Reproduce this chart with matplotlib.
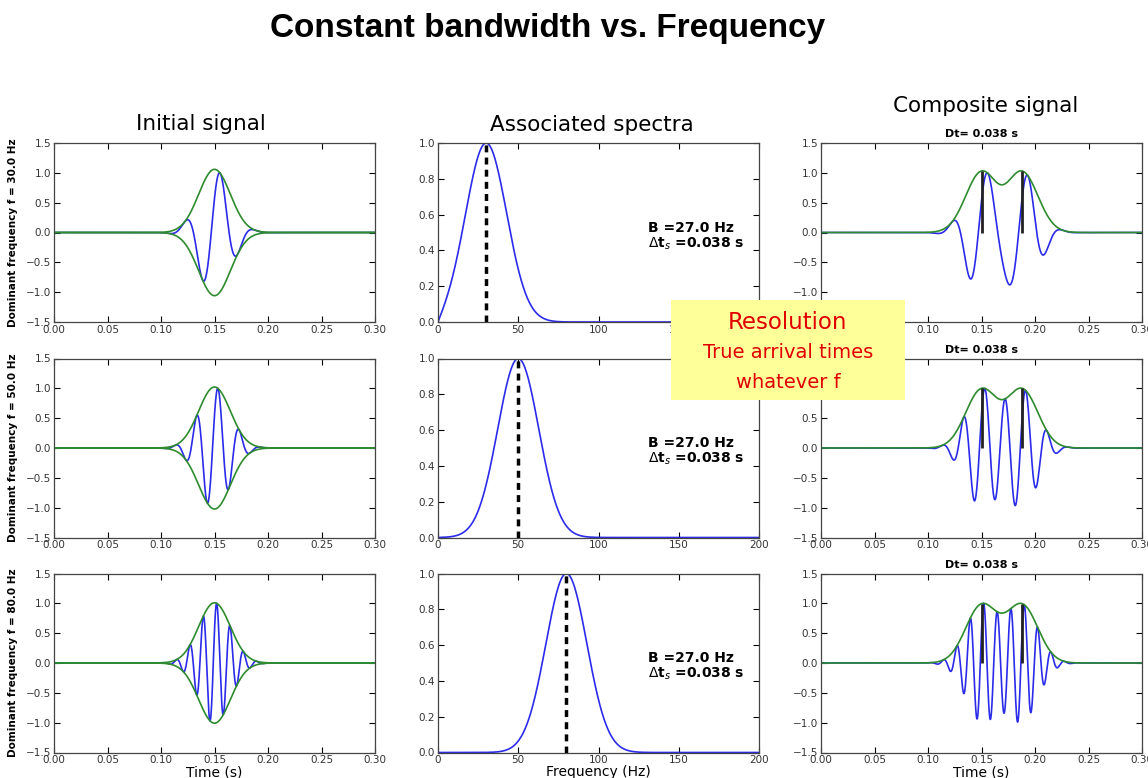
import numpy as np
import matplotlib
matplotlib.use("Agg")
import matplotlib.pyplot as plt

# parameters
freqs = [30.0, 50.0, 80.0]          # dominant frequency of each row (Hz)
bandwidth = 27.0                    # B (Hz)
dt_sep = 0.038                      # separation of the two arrivals (s)
t_first = 0.15                      # first arrival time (s)
spec_sigma = 12.8                   # width of the plotted spectra (Hz)
env_sigma = 0.0148                  # width of the time envelope (s)
phase = 1.0                         # carrier phase rotation (rad)

time_ticks = [0.00, 0.05, 0.10, 0.15, 0.20, 0.25, 0.30]
amp_ticks = [-1.5, -1.0, -0.5, 0.0, 0.5, 1.0, 1.5]
freq_ticks = [0, 50, 100, 150, 200]
spec_ticks = [0.0, 0.2, 0.4, 0.6, 0.8, 1.0]

col_titles = ["Initial signal", "Associated spectra", "Composite signal"]
box_lines = ["Resolution", "True arrival times", "whatever f"]

t = np.linspace(0, 0.3, 3001)
fr = np.linspace(0, 200, 2001)


def analytic(f, t0):
    tau = t - t0
    return np.exp(-tau**2 / (2 * env_sigma**2)) * np.exp(1j * (2 * np.pi * f * tau - phase))


def style(ax):
    ax.tick_params(direction='in', top=True, right=True, labelsize=7.5,
                   labelcolor='#333333', length=4, pad=2)
    for s in ax.spines.values():
        s.set_color('#444444')
        s.set_linewidth(0.9)


fig = plt.figure(figsize=(11.48, 7.78), dpi=100)

lefts = [54/1148, 438/1148, 821/1148]
width = 321/1148
bottoms = [1-322/778, 1-537.5/778, 1-752.5/778]
height = 179/778

for i, f in enumerate(freqs):
    # initial signal
    ax = fig.add_axes([lefts[0], bottoms[i], width, height])
    a = analytic(f, t_first)
    norm = np.max(a.real)
    ax.plot(t, a.real / norm, color='#2b2bea', lw=1.2)
    ax.plot(t, np.abs(a) / norm, color='#2e8b2e', lw=1.2)
    ax.plot(t, -np.abs(a) / norm, color='#2e8b2e', lw=1.2)
    ax.set_xlim(0, 0.3)
    ax.set_ylim(-1.5, 1.5)
    ax.set_xticks(time_ticks)
    ax.set_yticks(amp_ticks)
    ax.set_xticklabels(['%.2f' % v for v in time_ticks])
    ax.set_ylabel('Dominant frequency f = %.1f Hz' % f, fontsize=7.5,
                  fontweight='bold', labelpad=6)
    style(ax)
    if i == 2:
        ax.set_xlabel('Time (s)', fontsize=10, labelpad=0)

    # spectrum
    ax = fig.add_axes([lefts[1], bottoms[i], width, height])
    spec = np.exp(-(fr - f)**2 / (2 * spec_sigma**2)) - np.exp(-(fr + f)**2 / (2 * spec_sigma**2))
    ax.plot(fr, spec, color='#2b2bea', lw=1.2)
    ax.plot([f, f], [0, 1], color='k', lw=2.5, dashes=(2, 1.5))
    ax.set_xlim(0, 200)
    ax.set_ylim(0, 1.0)
    ax.set_xticks(freq_ticks)
    ax.set_yticks(spec_ticks)
    ax.text(0.655, 0.48, 'B =%.1f Hz\n$\\Delta$t$_{s}$ =%.3f s' % (bandwidth, dt_sep),
            transform=ax.transAxes, fontsize=10, fontweight='bold',
            va='center', ha='left', linespacing=1.05)
    style(ax)
    if i == 2:
        ax.set_xlabel('Frequency (Hz)', fontsize=10, labelpad=0)

    # composite signal
    ax = fig.add_axes([lefts[2], bottoms[i], width, height])
    c = analytic(f, t_first) + analytic(f, t_first + dt_sep)
    norm = np.max(c.real)
    env = np.abs(c) / norm
    ax.plot(t, c.real / norm, color='#2b2bea', lw=1.2)
    ax.plot(t, env, color='#2e8b2e', lw=1.2)
    arr = [t_first, t_first + dt_sep]
    ax.vlines(arr, 0, np.interp(arr, t, env), color='#222222', lw=2)
    ax.set_xlim(0, 0.3)
    ax.set_ylim(-1.5, 1.5)
    ax.set_xticks(time_ticks)
    ax.set_yticks(amp_ticks)
    ax.set_xticklabels(['%.2f' % v for v in time_ticks])
    ax.set_title('Dt= %.3f s' % dt_sep, fontsize=8, fontweight='bold', pad=4)
    style(ax)
    if i == 2:
        ax.set_xlabel('Time (s)', fontsize=10, labelpad=0)

fig.text(548/1148, 1-28/778, 'Constant bandwidth vs. Frequency', ha='center', va='center',
         fontsize=24, fontweight='bold', family=['Liberation Sans', 'DejaVu Sans'])
fig.text(201/1148, 1-124/778, col_titles[0], ha='center', va='center', fontsize=15.5)
fig.text(592/1148, 1-125/778, col_titles[1], ha='center', va='center', fontsize=15.5)
fig.text(986/1148, 1-106/778, col_titles[2], ha='center', va='center', fontsize=15.5)

# yellow note box
fig.patches.append(plt.Rectangle((671/1148, 1-400/778), 234/1148, 100/778,
                                 transform=fig.transFigure, facecolor='#ffff99',
                                 edgecolor='none', zorder=5))
fig.text(788/1148, 1-323/778, box_lines[0], ha='center', va='center', fontsize=16.5,
         color='#e00000', zorder=6)
fig.text(788/1148, 1-353/778, box_lines[1], ha='center', va='center', fontsize=14,
         color='#e00000', zorder=6)
fig.text(788/1148, 1-382/778, box_lines[2], ha='center', va='center', fontsize=14,
         color='#e00000', zorder=6)

fig.savefig('out.png', dpi=100)
